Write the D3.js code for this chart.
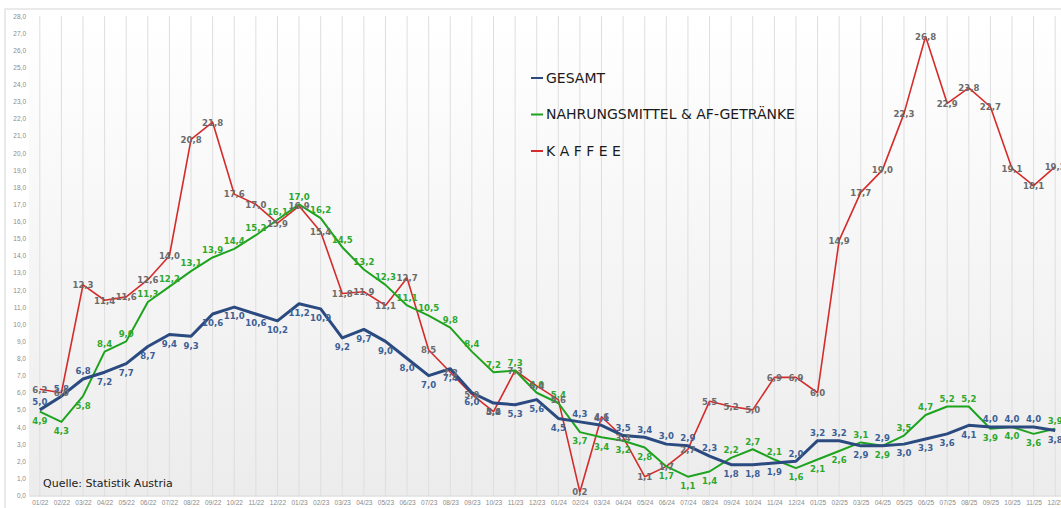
<!DOCTYPE html>
<html lang="de">
<head>
<meta charset="UTF-8">
<title>Inflation Kaffee</title>
<script src="https://d3js.org/d3.v7.min.js"></script>
<style>
  body { margin: 0; background: #fff; font-family: "DejaVu Sans", Verdana, sans-serif; }
  svg { display: block; }
  .tick text { fill: #8a8a8a; font-size: 6.5px; }
  .lbl { font-family: "DejaVu Sans Condensed", "DejaVu Sans", sans-serif; font-size: 9.5px; font-weight: bold; text-anchor: middle; }
  .legend text { font-size: 14px; fill: #1a1a1a; }
</style>
</head>
<body>
<svg id="chart" width="1061" height="508"></svg>
<script>
// Monate 01/22 - 12/25
const months = [
  "01/22","02/22","03/22","04/22","05/22","06/22","07/22","08/22","09/22","10/22","11/22","12/22",
  "01/23","02/23","03/23","04/23","05/23","06/23","07/23","08/23","09/23","10/23","11/23","12/23",
  "01/24","02/24","03/24","04/24","05/24","06/24","07/24","08/24","09/24","10/24","11/24","12/24",
  "01/25","02/25","03/25","04/25","05/25","06/25","07/25","08/25","09/25","10/25","11/25","12/25"
];
const gesamt = [
  5.0, 5.8, 6.8, 7.2, 7.7, 8.7, 9.4, 9.3, 10.6, 11.0, 10.6, 10.2,
  11.2, 10.9, 9.2, 9.7, 9.0, 8.0, 7.0, 7.4, 6.0, 5.4, 5.3, 5.6,
  4.5, 4.3, 4.1, 3.5, 3.4, 3.0, 2.9, 2.3, 1.8, 1.8, 1.9, 2.0,
  3.2, 3.2, 2.9, 2.9, 3.0, 3.3, 3.6, 4.1, 4.0, 4.0, 4.0, 3.8
];
const nahrung = [
  4.9, 4.3, 5.8, 8.4, 9.0, 11.3, 12.2, 13.1, 13.9, 14.4, 15.2, 16.1,
  17.0, 16.2, 14.5, 13.2, 12.3, 11.1, 10.5, 9.8, 8.4, 7.2, 7.3, 6.0,
  5.4, 3.7, 3.4, 3.2, 2.8, 1.7, 1.1, 1.4, 2.2, 2.7, 2.1, 1.6,
  2.1, 2.6, 3.1, 2.9, 3.5, 4.7, 5.2, 5.2, 3.9, 4.0, 3.6, 3.9
];
const kaffee = [
  6.2, 6.0, 12.3, 11.4, 11.6, 12.6, 14.0, 20.8, 21.8, 17.6, 17.0, 15.9,
  16.9, 15.4, 11.8, 11.9, 11.1, 12.7, 8.5, 7.2, 5.9, 4.9, 7.3, 6.4,
  5.6, 0.2, 4.6, 3.4, 1.1, 1.7, 2.7, 5.5, 5.2, 5.0, 6.9, 6.9,
  6.0, 14.9, 17.7, 19.0, 22.3, 26.8, 22.9, 23.8, 22.7, 19.1, 18.1, 19.2
];
const yTicks = d3.range(0, 29, 1);

const series = [
  { key: "g", name: "GESAMT", values: gesamt, color: "#2b4a80", width: 3, label: "#3d5f96" },
  { key: "n", name: "NAHRUNGSMITTEL & AF-GETRÄNKE", values: nahrung, color: "#1ea31e", width: 2, label: "#2da82d" },
  { key: "k", name: "K A F F E E", values: kaffee, color: "#d42b2b", width: 1.6, label: "#6b6b6b" }
];

// Beschriftung: die höhere der beiden unteren Linien oben, die tiefere unten, Kaffee mittig
function labelOffset(key, i) {
  if (key === "k") return 0;
  const blueUp = gesamt[i] >= nahrung[i];
  if (key === "g") return blueUp ? -8 : 9;
  return blueUp ? 9 : -8;
}

const width = 1061, height = 508;
const margin = { top: 16, right: -5, bottom: 12, left: 29 };
const svg = d3.select("#chart");

const x = d3.scalePoint()
  .domain(months)
  .range([margin.left, width - margin.right])
  .padding(0.5);

const y = d3.scaleLinear()
  .domain([0, 28])
  .range([height - margin.bottom - 0.5, margin.top]);

const fmt = v => d3.format(".1f")(v).replace(".", ",");

// Hintergrund mit Verlauf
const defs = svg.append("defs");
const grad = defs.append("linearGradient").attr("id", "bg").attr("x1", 0).attr("y1", 0).attr("x2", 0).attr("y2", 1);
grad.append("stop").attr("offset", "0%").attr("stop-color", "#ffffff");
grad.append("stop").attr("offset", "100%").attr("stop-color", "#ececec");

svg.append("rect")
  .attr("x", 5).attr("y", 9).attr("width", width).attr("height", height)
  .attr("fill", "#fff").attr("stroke", "#d6d6d6");

svg.append("rect")
  .attr("x", margin.left).attr("y", y(28))
  .attr("width", width - margin.left).attr("height", y(0) - y(28))
  .attr("fill", "url(#bg)");

// vertikale Gitterlinien
svg.append("g")
  .selectAll("line")
  .data(months)
  .join("line")
  .attr("x1", d => x(d)).attr("x2", d => x(d))
  .attr("y1", y(28)).attr("y2", y(0))
  .attr("stroke", "#dedede").attr("stroke-width", 1);

// Achsen
const yAxis = svg.append("g")
  .attr("transform", `translate(${margin.left},0)`)
  .call(d3.axisLeft(y).tickValues(yTicks).tickFormat(fmt).tickSize(0).tickPadding(3));
yAxis.select(".domain").remove();

const xAxis = svg.append("g")
  .attr("transform", `translate(0,${y(0)})`)
  .call(d3.axisBottom(x).tickSize(0).tickPadding(5));
xAxis.select(".domain").attr("stroke", "#d0d0d0");

// Linien
const line = d3.line()
  .x((d, i) => x(months[i]))
  .y(d => y(d));

series.slice().reverse().forEach(s => {
  svg.append("path")
    .datum(s.values)
    .attr("fill", "none")
    .attr("stroke", s.color)
    .attr("stroke-width", s.width)
    .attr("stroke-linejoin", "round")
    .attr("d", line);
});

// Datenbeschriftungen
series.forEach(s => {
  svg.append("g")
    .selectAll("text")
    .data(s.values)
    .join("text")
    .attr("class", "lbl")
    .attr("fill", s.label)
    .attr("x", (d, i) => x(months[i]))
    .attr("y", (d, i) => y(d) + labelOffset(s.key, i))
    .attr("dy", "0.35em")
    .text(fmt);
});

// Legende
const legend = svg.append("g").attr("class", "legend");
series.forEach((s, i) => {
  const g = legend.append("g").attr("transform", `translate(531,${78 + i * 36.5})`);
  g.append("line").attr("x1", 0).attr("x2", 12).attr("y1", 0).attr("y2", 0)
    .attr("stroke", s.color).attr("stroke-width", 2);
  g.append("text").attr("x", 15).attr("dy", "0.35em").text(s.name);
});

svg.append("text")
  .attr("x", 43).attr("y", 487)
  .attr("font-size", 11).attr("fill", "#222")
  .text("Quelle: Statistik Austria");
</script>
</body>
</html>
